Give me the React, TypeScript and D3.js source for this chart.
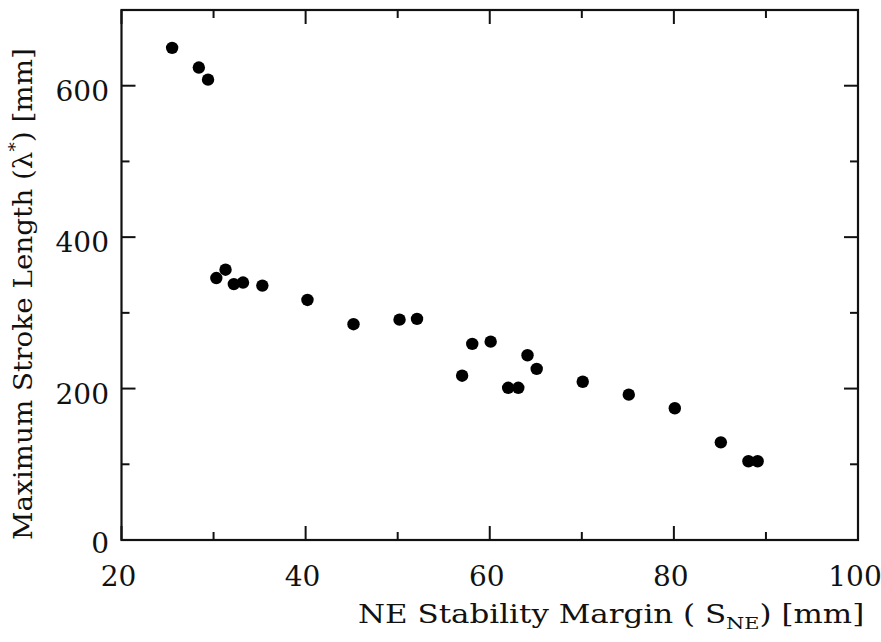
import React from "react";
import * as d3 from "d3";

const xValues = [25.5, 28.4, 29.4, 30.3, 31.3, 32.2, 33.2, 35.3, 40.2, 45.2, 50.2, 52.1, 57.0, 58.1, 60.1, 62.0, 63.1, 64.1, 65.1, 70.1, 75.1, 80.1, 85.1, 88.1, 89.1];
const yValues = [650, 624, 608, 346, 357, 338, 340, 336, 317, 285, 291, 292, 217, 259, 262, 201, 201, 244, 226, 209, 192, 174, 129, 104, 104];
const xMajorTicks = [20, 40, 60, 80, 100];
const xMinorTicks = [30, 50, 70, 90];
const yMajorTicks = [0, 200, 400, 600];
const yMinorTicks = [100, 300, 500];
const xLabel = "NE Stability Margin ( S";
const xLabelSub = "NE";
const xLabelEnd = ") [mm]";
const yLabelStart = "Maximum Stroke Length (λ";
const yLabelSup = "*";
const yLabelEnd = ") [mm]";

const W = 881, H = 642;
const L = 121.5, R = 858, T = 10, B = 540;
const FONT = "'DejaVu Serif', serif";

export default function App() {
  const x = d3.scaleLinear().domain([20, 100]).range([L, R]);
  const y = d3.scaleLinear().domain([0, 700]).range([B, T]);
  const majorLen = 14, minorLen = 8;
  const stroke = "#111";
  return (
    <svg width={W} height={H} style={{ position: "absolute", left: 0, top: 0, background: "#fff" }}>
      <rect x={L} y={T} width={R - L} height={B - T} fill="none" stroke={stroke} strokeWidth={2.2} />
      {xMajorTicks.map((t) => (
        <g key={"xM" + t}>
          <line x1={x(t)} x2={x(t)} y1={B} y2={B - majorLen} stroke={stroke} strokeWidth={2} />
          <line x1={x(t)} x2={x(t)} y1={T} y2={T + majorLen} stroke={stroke} strokeWidth={2} />
          <text x={x(t) - 3} y={586} textAnchor="middle" fontFamily={FONT} fontSize={28} fill="#111">{t}</text>
        </g>
      ))}
      {xMinorTicks.map((t) => (
        <g key={"xm" + t}>
          <line x1={x(t)} x2={x(t)} y1={B} y2={B - minorLen} stroke={stroke} strokeWidth={2} />
          <line x1={x(t)} x2={x(t)} y1={T} y2={T + minorLen} stroke={stroke} strokeWidth={2} />
        </g>
      ))}
      {yMajorTicks.map((t) => (
        <g key={"yM" + t}>
          <line x1={L} x2={L + majorLen} y1={y(t)} y2={y(t)} stroke={stroke} strokeWidth={2} />
          <line x1={R} x2={R - majorLen} y1={y(t)} y2={y(t)} stroke={stroke} strokeWidth={2} />
          <text x={109} y={t === 0 ? y(t) + 13 : y(t) + 15} textAnchor="end" fontFamily={FONT} fontSize={28} fill="#111">{t}</text>
        </g>
      ))}
      {yMinorTicks.map((t) => (
        <g key={"ym" + t}>
          <line x1={L} x2={L + minorLen} y1={y(t)} y2={y(t)} stroke={stroke} strokeWidth={2} />
          <line x1={R} x2={R - minorLen} y1={y(t)} y2={y(t)} stroke={stroke} strokeWidth={2} />
        </g>
      ))}
      {xValues.map((v, i) => (
        <circle key={"p" + i} cx={x(v)} cy={y(yValues[i])} r={6.2} fill="#000" />
      ))}
      <g transform="translate(358,623) scale(1.19,1)">
        <text x={0} y={0} fontFamily={FONT} fontSize={26} fill="#111">
          {xLabel}
          <tspan fontSize={17.5} dy={6}>{xLabelSub}</tspan>
          <tspan fontSize={26} dy={-6}>{xLabelEnd}</tspan>
        </text>
      </g>
      <g transform="translate(32,540) rotate(-90) scale(1.07,1)">
        <text x={0} y={0} fontFamily={FONT} fontSize={26} fill="#111">
          {yLabelStart}
          <tspan fontSize={17.5} dy={-11}>{yLabelSup}</tspan>
          <tspan fontSize={26} dy={11}>{yLabelEnd}</tspan>
        </text>
      </g>
    </svg>
  );
}
